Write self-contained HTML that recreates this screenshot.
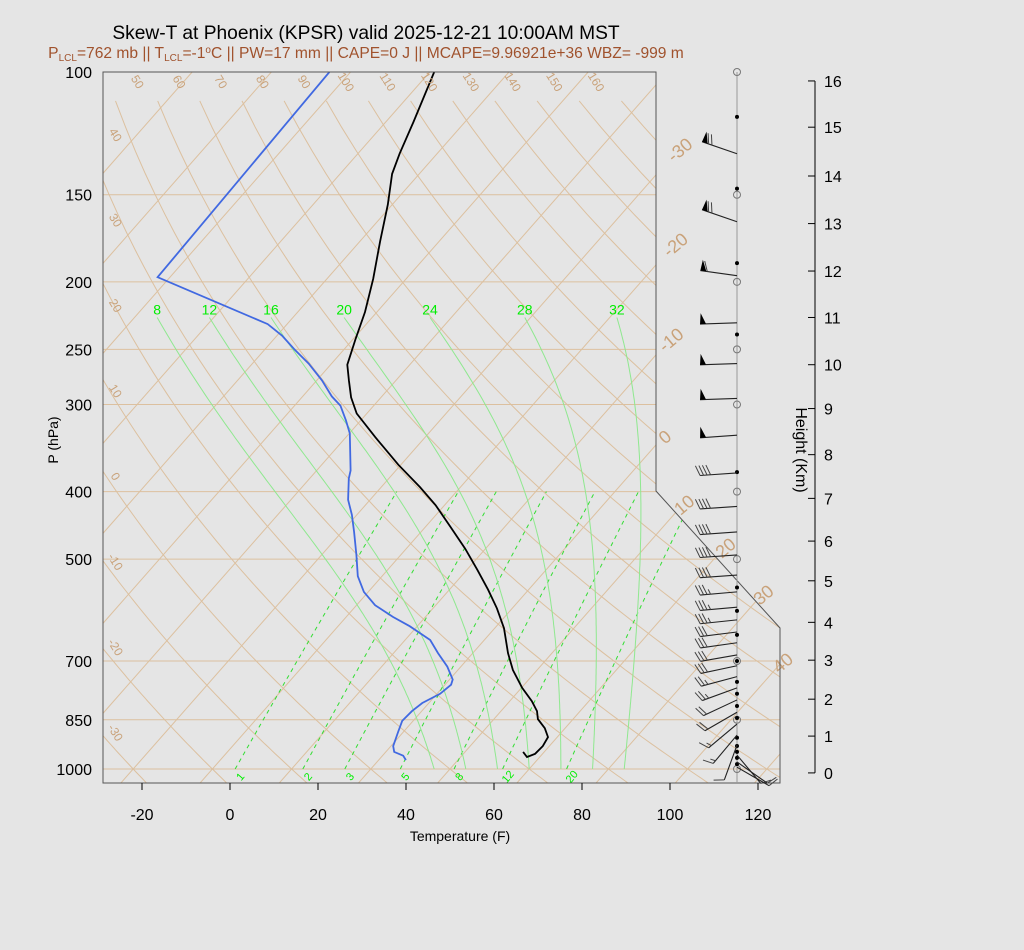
<!DOCTYPE html>
<html><head><meta charset="utf-8"><style>
body{margin:0;background:#e5e5e5;}
svg{display:block;font-family:"Liberation Sans",sans-serif;}
</style></head><body>
<svg id="c" width="1024" height="950" viewBox="0 0 1024 950">
<rect width="1024" height="950" fill="#e5e5e5"/>
<defs><clipPath id="pc"><polygon points="103,72 656,72 656,491 780,628 780,783 103,783"/></clipPath></defs>
<g id="grid" clip-path="url(#pc)"></g>
<g id="prof" clip-path="url(#pc)"></g>
<g id="ax"></g>
<text x="366" y="39" font-size="19.2" text-anchor="middle">Skew-T at Phoenix (KPSR) valid 2025-12-21 10:00AM MST</text>
<text x="366" y="58" font-size="15.6" fill="#a0522d" text-anchor="middle">P<tspan font-size="10" dy="3">LCL</tspan><tspan dy="-3">=762 mb || T</tspan><tspan font-size="10" dy="3">LCL</tspan><tspan dy="-3">=-1</tspan><tspan font-size="10" dy="-5">o</tspan><tspan dy="5">C || PW=17 mm || CAPE=0 J || MCAPE=9.96921e+36 WBZ= -999 m</tspan></text>
</svg>
<script>
// ---- data ----
const tempP=[945,961,951,927,900,874,848,826,799,765,721,682,628,588,553,518,483,449,418,394,366,334,309,293,277,263,242,221,198,175,155,140,131,118,100];
const tempF=[63.2,65.1,66.3,66.5,65.9,63.4,60,58.2,55,50.2,44.5,40,34.1,28.5,22.8,16.4,9.4,1.6,-6.1,-13.2,-22.6,-33.4,-42.3,-46.8,-50.7,-54.2,-57.4,-60.7,-65.5,-71.4,-77,-82.2,-84.5,-87.7,-93];
const dewP=[971,957,945,927,885,853,826,804,780,757,744,713,682,653,624,605,582,557,529,493,457,432,411,383,373,330,316,301,292,277,262,250,239,230,197,100];
const dewF=[38.2,36.7,33.9,32.5,30.8,29.5,29.8,30.5,32.7,33.4,32.7,28.9,24.1,19.7,12.3,6.6,0.2,-5,-9.5,-14.1,-19.2,-23.1,-27,-31.1,-32.3,-39.9,-43.4,-47.6,-51.4,-56.8,-63.2,-69.3,-74.8,-80.4,-114.8,-116.8];
const xTicks=[-20,0,20,40,60,80,100,120];
const pTicks=[100,150,200,250,300,400,500,700,850,1000];
const hTicks=[0,1,2,3,4,5,6,7,8,9,10,11,12,13,14,15,16];
const hTickP=[1013,897,794,698,616,537,471,409,354,304,263,225,193,165,141,120,103];
const isoC=[-100,-90,-80,-70,-60,-50,-40,-30,-20,-10,0,10,20,30,40,50];
const isoLabC=[-30,-20,-10,0,10,20,30,40];
const dryC=[-30,-20,-10,0,10,20,30,40,50,60,70,80,90,100,110,120,130,140,150,160];
const dryLeftLab=[40,30,20,10,0,-10,-20,-30];
const dryTopLab=[50,60,70,80,90,100,110,120,130,140,150,160];
const mixW=[1,2,3,5,8,12,20];
const moistC=[8,12,16,20,24,28,32];
const barbP=[131,164,196,229,262,294,332,376,420,457,493,527,557,586,611,636,659,686,711,737,765,796,829,862,894,924,955,977,994];
const barbSpd=[70,70,60,50,50,50,50,40,40,40,40,40,35,35,35,30,30,30,30,25,25,20,20,15,15,10,10,10,10];
const barbDir=[289,289,278,268,268,268,266,266,266,266,266,266,265,265,264,263,262,260,258,255,250,245,240,230,220,200,140,125,120];
const dotP=[116,147,188,238,375,549,593,642,700,750,780,812,845,902,927,945,964,984];
// ---- axis functions ----
const NS='http://www.w3.org/2000/svg';
const yP=p=>72+697*Math.log10(p/100);
const xT=(F,p)=>230+4.4*F+0.88*(769-yP(p));
const C2F=c=>c*9/5+32;
function el(t,a,par){const e=document.createElementNS(NS,t);for(const k in a)e.setAttribute(k,a[k]);(par||document.getElementById('ax')).appendChild(e);return e;}
const grid=document.getElementById('grid'),prof=document.getElementById('prof');
const tan='#dcc09f',lab='#c9a27a';
pTicks.forEach(p=>{const l=el('line',{x1:103,x2:780,y1:yP(p),y2:yP(p),stroke:tan,'stroke-width':1},grid);

});
isoC.forEach(c=>{const F=C2F(c);const l=el('line',{x1:xT(F,1050),y1:yP(1050),x2:xT(F,100),y2:yP(100),stroke:tan,'stroke-width':1},grid);

});
const pts=[];for(let p=1050;p>=110;p-=10)pts.push(p);
dryC.forEach(c=>{const th=c+273.15;const d=[];
for(const p of pts){const T=th*Math.pow(p/1000,0.2857)-273.15;d.push((d.length?'L':'M')+xT(C2F(T),p).toFixed(1)+','+yP(p).toFixed(1));}
const l=el('path',{d:d.join(''),fill:'none',stroke:tan,'stroke-width':1},grid);

});
dryLeftLab.forEach((v,i)=>{const x=112,y=137+85.4*i;
const t=el('text',{x:x,y:y,'font-size':12,fill:lab,'text-anchor':'middle',transform:`rotate(58 ${x} ${y})`});t.textContent=v;

});
dryTopLab.forEach((v,i)=>{const x=134+41.7*i,y=84;
const t=el('text',{x:x,y:y,'font-size':12,fill:lab,'text-anchor':'middle',transform:`rotate(58 ${x} ${y})`});t.textContent=v;

});
const isoLabY=[150,245,340,437,505,548,595,663];
isoLabC.forEach((c,i)=>{const y=isoLabY[i];const p=100*Math.pow(10,(y-72)/697);const x=xT(C2F(c),p)+2;
const t=el('text',{x:x,y:y+6,'font-size':18,fill:lab,'text-anchor':'middle',transform:`rotate(-40 ${x} ${y})`});t.textContent=c;

});
const es2Td=e=>{const l=Math.log(e/6.112);return 243.5*l/(17.67-l);};
mixW.forEach(w=>{const d=[];for(let p=1000;p>=400;p-=10){const e=w*p/(622+w);d.push((d.length?'L':'M')+xT(C2F(es2Td(e)),p).toFixed(1)+','+yP(p).toFixed(1));}
const l=el('path',{d:d.join(''),fill:'none',stroke:'#33dd33','stroke-width':1,'stroke-dasharray':'4,4'},grid);


const x=xT(C2F(es2Td(w*1000/(622+w))),1000)+8;
const t=el('text',{x:x,y:779,'font-size':11,fill:'#00ee00','text-anchor':'middle',transform:`rotate(-50 ${x} 779)`});t.textContent=w;

});
const esC=T=>6.112*Math.exp(17.67*T/(T+243.5));
moistC.forEach(c=>{let T=c+273.15,p=1000;const d=['M'+xT(C2F(c),1000).toFixed(1)+','+yP(1000).toFixed(1)];
while(p>228){const es=esC(T-273.15);const rs=0.622*es/(p-es);const Lv=2.5e6,Rd=287,cp=1005;
const dTdp=(1/p)*(Rd*T+Lv*rs)/(cp+Lv*Lv*rs*0.622/(Rd*T*T));T-=dTdp*5;p-=5;
d.push('L'+xT(C2F(T-273.15),p).toFixed(1)+','+yP(p).toFixed(1));}
const l=el('path',{d:d.join(''),fill:'none',stroke:'#8fe88f','stroke-width':1},grid);


const t=el('text',{x:xT(C2F(T-273.15),p),y:yP(p)-3,'font-size':14,fill:'#00ee00','text-anchor':'middle'});t.textContent=c;

});
const path=(P,F)=>P.map((p,i)=>(i?'L':'M')+xT(F[i],p).toFixed(1)+','+yP(p).toFixed(1)).join('');
const tl=el('path',{d:path(tempP,tempF),fill:'none',stroke:'#000','stroke-width':1.8},prof);


const dl=el('path',{d:path(dewP,dewF),fill:'none',stroke:'#4169e1','stroke-width':1.8},prof);


const fr=el('polygon',{points:'103,72 656,72 656,491 780,628 780,783 103,783',fill:'none',stroke:'#555','stroke-width':1});


xTicks.forEach(v=>{const x=230+4.4*v;el('line',{x1:x,x2:x,y1:783,y2:790,stroke:'#000'});
const t=el('text',{x:x,y:820,'font-size':16,'text-anchor':'middle'});t.textContent=v;

});
const xl=el('text',{x:460,y:841,'font-size':14,'text-anchor':'middle'});xl.textContent='Temperature (F)';


pTicks.forEach(p=>{const t=el('text',{x:92,y:yP(p)+6,'font-size':16,'text-anchor':'end'});t.textContent=p;

});
const yl=el('text',{x:58,y:440,'font-size':14,'text-anchor':'middle',transform:'rotate(-90 58 440)'});yl.textContent='P (hPa)';


el('line',{x1:815,x2:815,y1:yP(hTickP[16]),y2:yP(hTickP[0]),stroke:'#000'});
hTicks.forEach((h,i)=>{const y=yP(hTickP[i]);el('line',{x1:808,x2:815,y1:y,y2:y,stroke:'#000'});
const t=el('text',{x:824,y:y+6,'font-size':16});t.textContent=h;

});
const hl=el('text',{x:796,y:450,'font-size':16,'text-anchor':'middle',transform:'rotate(90 796 450)'});hl.textContent='Height (Km)';


el('line',{x1:737,x2:737,y1:72,y2:783,stroke:'#999'});
pTicks.forEach(p=>{const c=el('circle',{cx:737,cy:yP(p),r:3.5,fill:'none',stroke:'#777'});

});
dotP.forEach(p=>{const c=el('circle',{cx:737,cy:yP(p),r:2,fill:'#000'});

});
barbP.forEach((p,i)=>{const g=el('g',{});


const x0=737,y0=yP(p),a=barbDir[i]*Math.PI/180,L=37;
const dx=Math.sin(a),dy=-Math.cos(a);
const ex=x0+dx*L,ey=y0+dy*L;
el('line',{x1:x0,y1:y0,x2:ex,y2:ey,stroke:'#222','stroke-width':1.1},g);
let px=dy,py=-dx; if(py>0){px=-px;py=-py;}
let s=barbSpd[i],pos=0;
while(s>=50){const bx=ex-dx*pos,by=ey-dy*pos;
el('polygon',{points:`${bx},${by} ${bx-dx*6},${by-dy*6} ${bx+px*11-dx*1},${by+py*11-dy*1}`,fill:'#000'},g);pos+=7;s-=50;}
while(s>=10){const bx=ex-dx*pos,by=ey-dy*pos;el('line',{x1:bx,y1:by,x2:bx+px*10+dx*4,y2:by+py*10+dy*4,stroke:'#444'},g);pos+=3.5;s-=10;}
if(s>=5){const bx=ex-dx*pos,by=ey-dy*pos;el('line',{x1:bx,y1:by,x2:bx+px*5+dx*2,y2:by+py*5+dy*2,stroke:'#444'},g);}
});
</script>
</body></html>
